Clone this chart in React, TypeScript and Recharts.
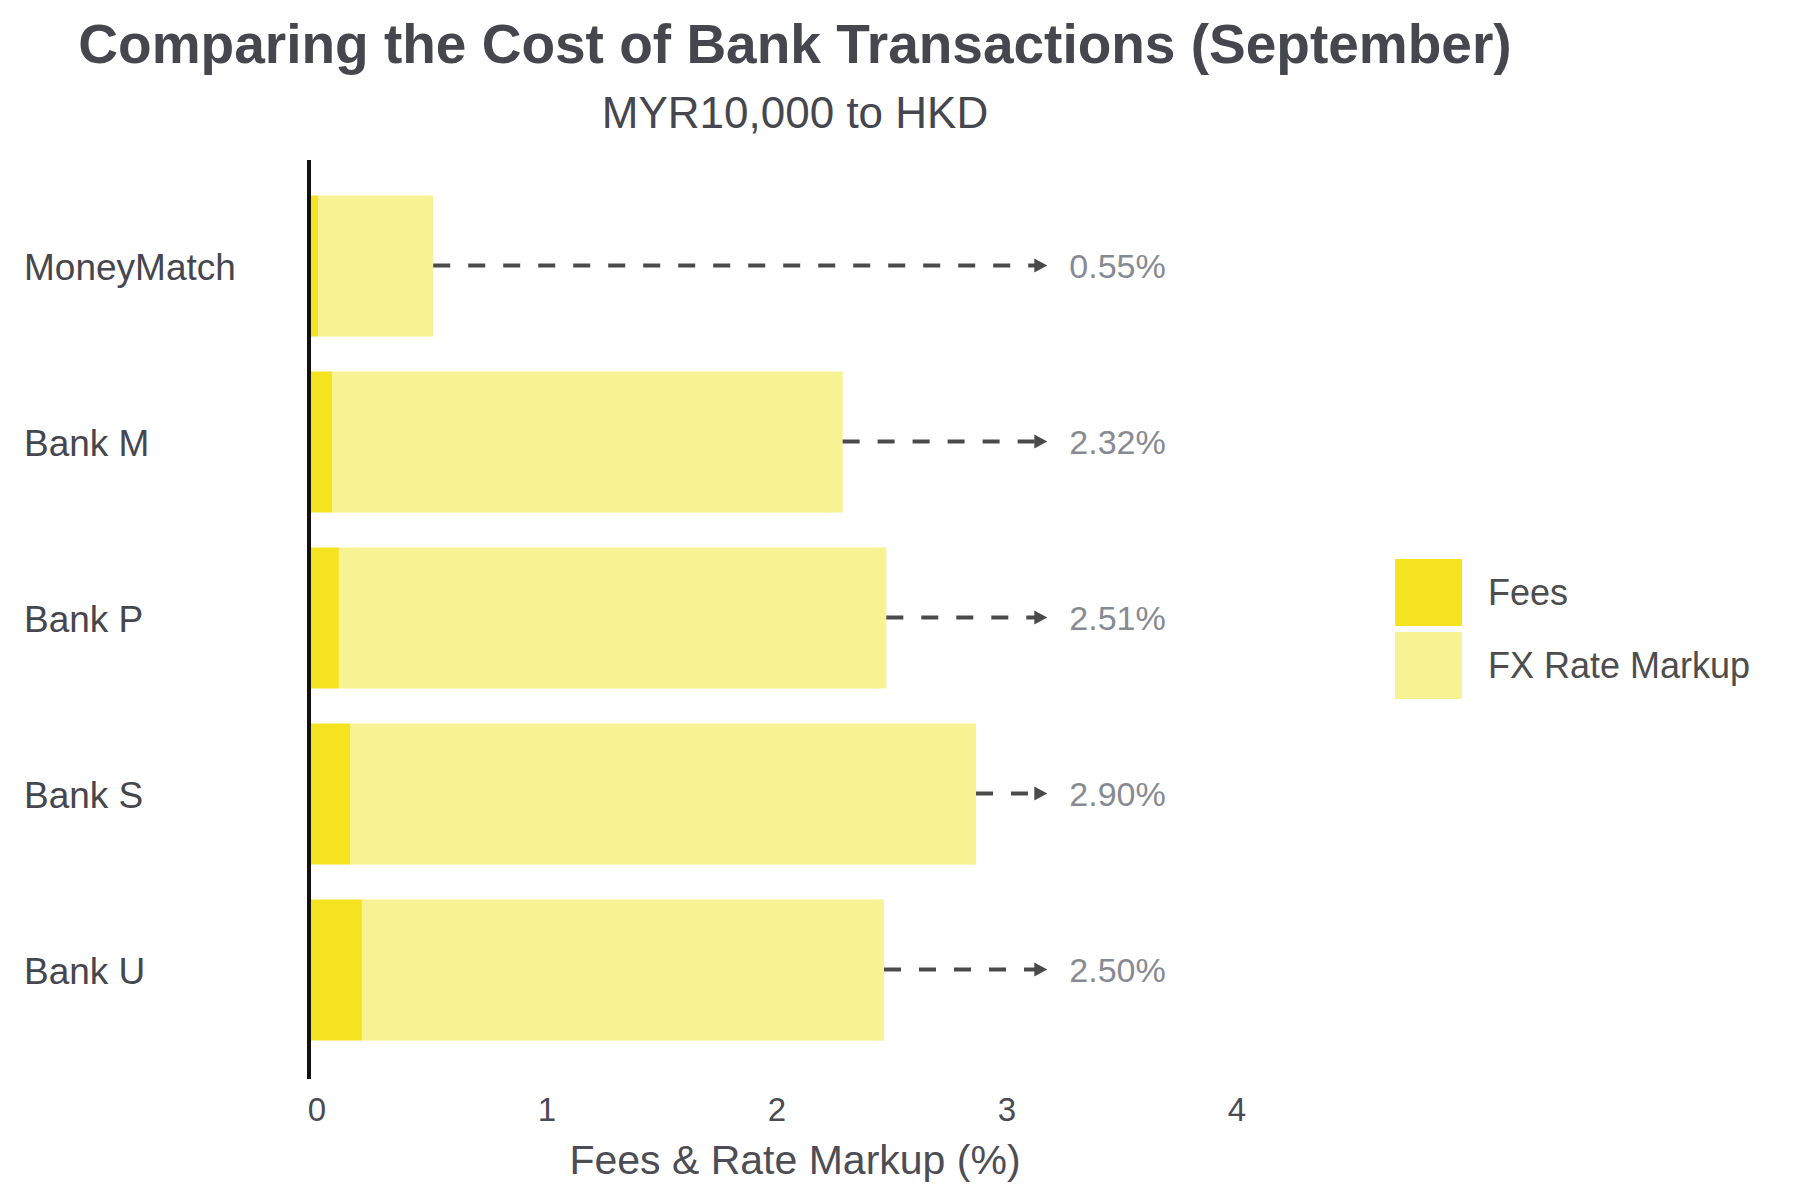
import React from 'react';
import { BarChart, Bar, XAxis, YAxis, ReferenceLine, Legend, Customized } from 'recharts';

const banks = ['MoneyMatch', 'Bank M', 'Bank P', 'Bank S', 'Bank U'];
const fees = [0.04, 0.10, 0.13, 0.18, 0.23];
const fxMarkup = [0.50, 2.22, 2.38, 2.72, 2.27];
const totalLabels = ['0.55%', '2.32%', '2.51%', '2.90%', '2.50%'];
const seriesNames = ['Fees', 'FX Rate Markup'];
const xTicks = [0, 1, 2, 3, 4];
const arrowEnd = 3.21;

const data = banks.map((name, i) => ({
  name,
  fees: fees[i],
  fx: fxMarkup[i],
  total: fees[i] + fxMarkup[i],
  label: totalLabels[i],
}));

const TEXT = '#46464f';

// dashed arrow from the end of the bar to the label
const arrowShape = (label: string) => (props: any) => {
  const { x1, y1, x2 } = props;
  return (
    <g>
      <line x1={x1} y1={y1} x2={x2 - 10} y2={y1} stroke="#4a4a4a" strokeWidth={4} strokeDasharray="17 18" />
      <polygon points={`${x2 - 13},${y1 - 7} ${x2},${y1} ${x2 - 13},${y1 + 7}`} fill="#4a4a4a" />
      <text x={x2 + 22} y={y1} dy="0.36em" fontSize={34} fill="#878a93">{label}</text>
    </g>
  );
};

const YTick = (props: any) => {
  const { y, payload } = props;
  return (
    <text x={24} y={y} dy="0.38em" fontSize={37} fill={TEXT} textAnchor="start">{payload.value}</text>
  );
};

const XTick = (props: any) => {
  const { x, y, payload } = props;
  return (
    <text x={x + 8} y={y + 42} fontSize={33} fill="#4a4a52" textAnchor="middle">{payload.value}</text>
  );
};

const LegendBox = (props: any) => {
  const payload = [...(props.payload || [])].sort(
    (a: any, b: any) => seriesNames.indexOf(a.value) - seriesNames.indexOf(b.value)
  );
  return (
    <div>
      {payload.map((p: any) => (
        <div key={p.value} style={{ display: 'flex', alignItems: 'center', height: 67, marginBottom: 6 }}>
          <div style={{ width: 67, height: 67, background: p.color }} />
          <span style={{ marginLeft: 26, fontSize: 36, color: '#4d4d4d' }}>{p.value}</span>
        </div>
      ))}
    </div>
  );
};

const Titles = () => (
  <g>
    <text x={795} y={63} textAnchor="middle" fontSize={55} fontWeight="bold" fill={TEXT}>
      Comparing the Cost of Bank Transactions (September)
    </text>
    <text x={795} y={128} textAnchor="middle" fontSize={44} fill={TEXT}>MYR10,000 to HKD</text>
    <text x={795} y={1174} textAnchor="middle" fontSize={41} fill="#4d4d55">Fees &amp; Rate Markup (%)</text>
  </g>
);

export default function App() {
  return (
    <div style={{ position: 'absolute', left: 0, top: 0, width: 1800, height: 1200, background: '#fff', fontFamily: '"Liberation Sans", Arial, sans-serif' }}>
      <BarChart
        width={1800}
        height={1200}
        data={data}
        layout="vertical"
        margin={{ top: 160, right: 171, bottom: 0, left: 0 }}
        barSize={141}
      >
        <XAxis
          type="number"
          domain={[0, 4]}
          ticks={xTicks}
          axisLine={false}
          tickLine={false}
          tickSize={0}
          tickMargin={0}
          height={121}
          tick={(p: any) => <XTick {...p} />}
        />
        <YAxis
          type="category"
          dataKey="name"
          width={309}
          padding={{ top: 17.5, bottom: 21.5 }}
          tickLine={false}
          axisLine={{ stroke: '#111', strokeWidth: 4 }}
          tick={(p: any) => <YTick {...p} />}
        />
        <Bar dataKey="fees" name="Fees" stackId="a" fill="#f6e31f" isAnimationActive={false} />
        <Bar dataKey="fx" name="FX Rate Markup" stackId="a" fill="#f7f292" isAnimationActive={false} />
        {data.map((d) => (
          <ReferenceLine
            key={d.name}
            segment={[{ x: d.total, y: d.name }, { x: arrowEnd, y: d.name }]}
            shape={arrowShape(d.label)}
          />
        ))}
        <Legend
          layout="horizontal"
          verticalAlign="middle"
          align="right"
          wrapperStyle={{ left: 1395, top: 559, width: 400, height: 140 }}
          content={(p: any) => <LegendBox {...p} />}
        />
        <Customized component={Titles} />
      </BarChart>
    </div>
  );
}
